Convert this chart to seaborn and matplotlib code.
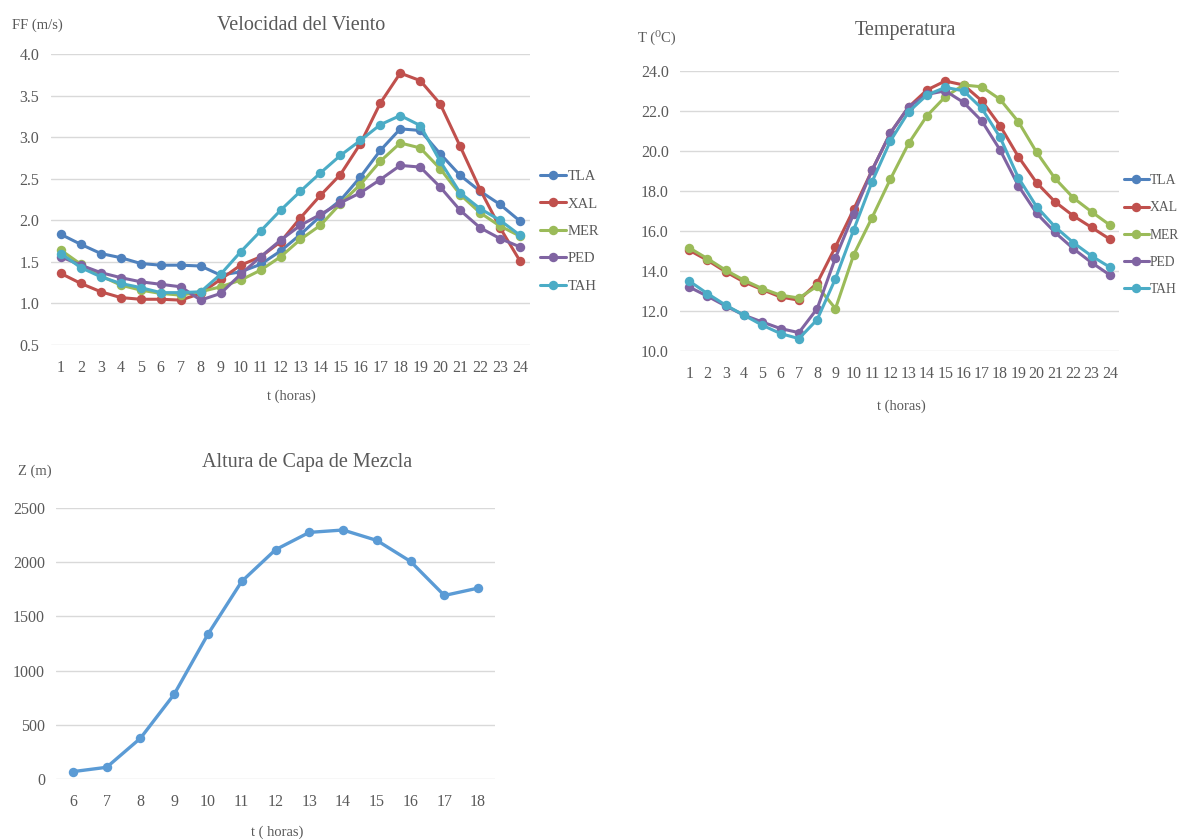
import numpy as np
import pandas as pd
import matplotlib
matplotlib.use("Agg")
import matplotlib.pyplot as plt
from matplotlib.lines import Line2D
from matplotlib.ticker import MultipleLocator, FormatStrFormatter
import seaborn as sns

# ---------------- data ----------------
horas = list(range(1, 25))
estaciones = ["TLA", "XAL", "MER", "PED", "TAH"]

# wind speed FF (m/s)
ff_tla = [1.83, 1.71, 1.60, 1.55, 1.48, 1.46, 1.46, 1.45, 1.34, 1.38, 1.47, 1.63,
          1.83, 2.05, 2.24, 2.52, 2.84, 3.10, 3.08, 2.80, 2.54, 2.35, 2.19, 1.99]
ff_xal = [1.36, 1.24, 1.14, 1.07, 1.05, 1.05, 1.04, 1.12, 1.29, 1.46, 1.56, 1.74,
          2.03, 2.30, 2.55, 2.92, 3.41, 3.77, 3.68, 3.40, 2.89, 2.37, 1.91, 1.51]
ff_mer = [1.64, 1.47, 1.33, 1.22, 1.16, 1.12, 1.10, 1.14, 1.20, 1.28, 1.40, 1.56,
          1.77, 1.94, 2.20, 2.43, 2.71, 2.93, 2.87, 2.62, 2.31, 2.09, 1.93, 1.81]
ff_ped = [1.56, 1.46, 1.37, 1.31, 1.26, 1.23, 1.20, 1.04, 1.12, 1.35, 1.56, 1.76,
          1.94, 2.07, 2.21, 2.33, 2.49, 2.66, 2.64, 2.40, 2.12, 1.91, 1.78, 1.68]
ff_tah = [1.60, 1.43, 1.32, 1.24, 1.19, 1.13, 1.13, 1.14, 1.35, 1.62, 1.87, 2.12,
          2.35, 2.57, 2.78, 2.96, 3.15, 3.26, 3.14, 2.71, 2.33, 2.14, 2.00, 1.82]

# temperature T (degC); TLA has no temperature record
t_tla = [None] * 24
t_xal = [15.04, 14.54, 13.96, 13.45, 13.07, 12.70, 12.54, 13.40, 15.21, 17.09, 19.04, 20.90,
         22.20, 23.05, 23.50, 23.30, 22.51, 21.26, 19.71, 18.41, 17.46, 16.76, 16.18, 15.59]
t_mer = [15.16, 14.62, 14.04, 13.54, 13.12, 12.79, 12.65, 13.24, 12.12, 14.82, 16.67, 18.59,
         20.38, 21.76, 22.71, 23.30, 23.21, 22.58, 21.46, 19.93, 18.63, 17.66, 16.96, 16.30]
t_ped = [13.20, 12.74, 12.25, 11.79, 11.45, 11.12, 10.92, 12.12, 14.66, 16.87, 19.04, 20.90,
         22.21, 22.83, 23.01, 22.43, 21.50, 20.05, 18.26, 16.88, 15.93, 15.12, 14.42, 13.80]
t_tah = [13.50, 12.87, 12.29, 11.79, 11.29, 10.87, 10.62, 11.57, 13.62, 16.07, 18.46, 20.50,
         21.96, 22.80, 23.18, 23.01, 22.13, 20.68, 18.66, 17.21, 16.21, 15.42, 14.75, 14.19]

# mixing layer height Z (m)
horas_capa = list(range(6, 19))
z_capa = [68, 108, 376, 782, 1336, 1823, 2115, 2275, 2297, 2201, 2007, 1693, 1761]

colores = {"TLA": "#4F81BD", "XAL": "#C0504D", "MER": "#9BBB59",
           "PED": "#8064A2", "TAH": "#4BACC6"}
azul_capa = "#5B9BD5"

# ---------------- style ----------------
sns.set_theme(style="whitegrid")
plt.rcParams["font.family"] = ["Liberation Serif", "DejaVu Serif"]
texto = "#595959"
rejilla = "#D9D9D9"

W, H = 1182, 840
fig = plt.figure(figsize=(W / 100, H / 100), dpi=100)
fig.patch.set_facecolor("white")


def px_axes(left, top, right, bottom):
    return fig.add_axes([left / W, 1 - bottom / H, (right - left) / W, (bottom - top) / H])


def estilo(ax):
    ax.set_facecolor("white")
    for s in ax.spines.values():
        s.set_visible(False)
    ax.grid(axis="y", color=rejilla, linewidth=1.0)
    ax.grid(axis="x", visible=False)
    ax.tick_params(axis="both", colors=texto, labelsize=11.5, length=0)
    ax.set_xlabel("")
    ax.set_ylabel("")


def largo(series):
    filas = []
    for est, vals in series.items():
        for h, v in zip(horas, vals):
            filas.append({"hora": h, "estacion": est, "valor": np.nan if v is None else v})
    return pd.DataFrame(filas)


def dibujar(ax, series):
    df = largo(series).dropna()
    orden = [e for e in estaciones if e in df["estacion"].unique()]
    sns.lineplot(data=df, x="hora", y="valor", hue="estacion", hue_order=orden,
                 palette=colores, marker="o", markersize=6.8, markeredgewidth=0,
                 linewidth=2.2, legend=False, ax=ax)


def leyenda(x, y, size, spacing):
    handles = [Line2D([0], [0], color=colores[e], marker="o", markersize=6.8,
                      markeredgewidth=0, linewidth=2.2) for e in estaciones]
    fig.legend(handles, estaciones, loc="upper left", bbox_to_anchor=(x / W, 1 - y / H),
               frameon=False, fontsize=size, labelcolor=texto, handlelength=1.8,
               handletextpad=0.12, labelspacing=spacing, borderpad=0, borderaxespad=0)


# ---------------- wind speed ----------------
ax1 = px_axes(51, 54, 530, 345)
dibujar(ax1, {"TLA": ff_tla, "XAL": ff_xal, "MER": ff_mer, "PED": ff_ped, "TAH": ff_tah})
estilo(ax1)
ax1.set_xlim(0.5, 24.5)
ax1.set_ylim(0.5, 4.0)
ax1.set_xticks(horas)
ax1.yaxis.set_major_locator(MultipleLocator(0.5))
ax1.yaxis.set_major_formatter(FormatStrFormatter("%.1f"))
ax1.tick_params(axis="x", pad=11)
ax1.tick_params(axis="y", pad=8.5)
fig.text(301 / W, 1 - 25 / H, "Velocidad del Viento", ha="center", va="center",
         fontsize=14.5, color=texto)
fig.text(12 / W, 1 - 25 / H, "FF (m/s)", ha="left", va="center", fontsize=10.5, color=texto)
fig.text(291 / W, 1 - 396 / H, "t (horas)", ha="center", va="center", fontsize=10.5, color=texto)
leyenda(540, 170, 10.5, 0.97)

# ---------------- temperature ----------------
ax2 = px_axes(680, 71, 1119, 351)
dibujar(ax2, {"TLA": t_tla, "XAL": t_xal, "MER": t_mer, "PED": t_ped, "TAH": t_tah})
estilo(ax2)
ax2.set_xlim(0.5, 24.5)
ax2.set_ylim(10, 24)
ax2.set_xticks(horas)
ax2.yaxis.set_major_locator(MultipleLocator(2))
ax2.yaxis.set_major_formatter(FormatStrFormatter("%.1f"))
ax2.tick_params(axis="x", pad=11)
ax2.tick_params(axis="y", pad=8)
fig.text(905 / W, 1 - 30 / H, "Temperatura", ha="center", va="center",
         fontsize=14.5, color=texto)
fig.text(638 / W, 1 - 37 / H, "T (\u2070C)", ha="left", va="center", fontsize=10.5, color=texto)
fig.text(901 / W, 1 - 406 / H, "t (horas)", ha="center", va="center", fontsize=10.5, color=texto)
leyenda(1124, 174, 9.8, 1.05)

# ---------------- mixing layer height ----------------
ax3 = px_axes(56, 508, 495, 779)
df_capa = pd.DataFrame({"hora": horas_capa, "Z": z_capa})
sns.lineplot(data=df_capa, x="hora", y="Z", color=azul_capa, marker="o", markersize=6.8,
             markeredgewidth=0, linewidth=2.4, ax=ax3)
estilo(ax3)
ax3.set_xlim(5.5, 18.5)
ax3.set_ylim(0, 2500)
ax3.set_xticks(horas_capa)
ax3.yaxis.set_major_locator(MultipleLocator(500))
ax3.tick_params(axis="x", pad=11)
ax3.tick_params(axis="y", pad=8)
fig.text(307 / W, 1 - 462 / H, "Altura de Capa de Mezcla", ha="center", va="center",
         fontsize=14.5, color=texto)
fig.text(18 / W, 1 - 471 / H, "Z (m)", ha="left", va="center", fontsize=10.5, color=texto)
fig.text(277 / W, 1 - 832 / H, "t ( horas)", ha="center", va="center", fontsize=10.5, color=texto)

fig.savefig("out.png", dpi=100, facecolor="white")
